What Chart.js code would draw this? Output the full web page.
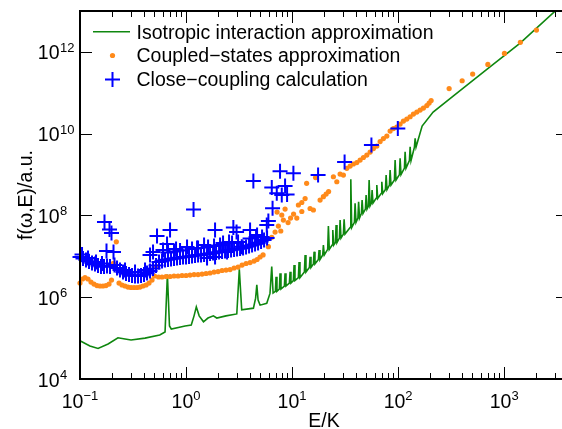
<!DOCTYPE html>
<html>
<head>
<meta charset="utf-8">
<script src="https://cdn.jsdelivr.net/npm/chart.js@4.4.1/dist/chart.umd.min.js"></script>
<style>
html, body { margin: 0; padding: 0; background: #fff; overflow: hidden; }
#wrap { width: 562px; height: 429px; overflow: hidden; }
canvas { display: block; }
</style>
</head>
<body>
<div id="wrap"><canvas id="graph" width="580" height="429"></canvas></div>
<script>
// Isotropic interaction approximation (green line)
const isoE = [0.101, 0.124, 0.148, 0.184, 0.228, 0.266, 0.303, 0.410, 0.565, 0.634, 0.667, 0.698, 0.726, 0.98, 1.12,
  1.19, 1.25, 1.33, 1.46, 1.61, 1.81, 1.95, 2.38, 3.01, 3.18, 3.35, 4.32, 4.53, 4.65, 4.78, 4.99, 5.77, 6.19, 6.43, 6.62,
  6.96, 7.06, 7.20, 7.59, 7.70, 7.86, 8.46, 8.59, 8.76, 9.43, 9.58, 9.76, 10.29, 10.44, 10.65, 11.47, 11.64, 11.87,
  13.06, 13.27, 13.52, 14.56, 14.79, 15.08, 15.89, 16.13, 16.44, 17.71, 17.97, 18.33, 19.45, 19.74, 20.13,
  21.67, 22.00, 22.44, 23.85, 24.21, 24.69, 25.62, 26.01, 26.52, 27.94, 28.37, 28.93, 30.48, 30.95, 31.56,
  35.26, 35.80, 36.50, 38.70, 39.29, 40.08, 41.77, 42.41, 43.24, 45.06, 45.75, 46.66, 49.15, 49.90, 50.89,
  52.48, 53.28, 54.33, 56.00, 56.85, 57.97, 62.02, 62.97, 64.21, 69.13, 70.19, 71.56, 75.91, 77.07, 78.59,
  82.79, 84.05, 85.70, 92.28, 93.69, 95.54, 102.9, 104.4, 106.5, 114.7, 116.4, 118.7, 127.8, 129.8, 132.3,
  142.5, 144.7, 147.6, 168.4, 213.9, 330.3, 691, 1415, 3094];
const isoF = [8.5e4, 6.4e4, 5.6e4, 7.2e4, 1.02e5, 9.5e4, 9.0e4, 1.0e5, 1.19e5, 1.41e5, 3.6e6, 1.98e5, 1.67e5, 1.98e5, 2.09e5,
  3.5e5, 5.8e5, 3.5e5, 2.5e5, 3.1e5, 3.5e5, 3.1e5, 3.5e5, 3.9e5, 4.8e6, 4.9e5, 5.4e5, 9.5e5, 2.0e6, 8.5e5, 6.4e5, 7.1e5, 1.24e6, 5.6e6, 1.27e6,
  1.39e6, 3.17e6, 1.39e6, 1.59e6, 3.84e6, 1.59e6, 1.88e6, 3.84e6, 1.88e6, 2.22e6, 4.20e6, 2.22e6, 2.55e6, 6.12e6, 2.55e6, 3.01e6, 7.26e6, 3.01e6,
  4.13e6, 1.08e7, 4.13e6, 5.35e6, 9.77e6, 5.35e6, 6.49e6, 1.30e7, 6.49e6, 8.35e6, 1.43e7, 8.35e6, 1.08e7, 1.89e7, 1.08e7,
  1.48e7, 5.51e7, 1.48e7, 1.89e7, 4.40e7, 1.89e7, 2.17e7, 5.82e7, 2.17e7, 2.80e7, 7.72e7, 2.80e7, 3.51e7, 8.03e7, 3.51e7,
  5.06e7, 7.64e8, 5.06e7, 6.78e7, 1.98e8, 6.78e7, 8.63e7, 2.16e8, 8.63e7, 1.12e8, 2.38e8, 1.12e8, 1.43e8, 3.15e8, 1.43e8,
  1.70e8, 7.34e8, 1.70e8, 2.01e8, 4.18e8, 2.01e8, 2.62e8, 5.54e8, 2.62e8, 3.43e8, 6.67e8, 3.43e8, 4.30e8, 9.72e8, 4.30e8,
  5.54e8, 1.29e9, 5.54e8, 7.34e8, 2.26e9, 7.34e8, 1.00e9, 2.49e9, 1.00e9, 1.44e9, 3.61e9, 1.44e9, 2.20e9, 4.79e9, 2.20e9,
  4.70e9, 7.67e9, 4.70e9, 1.53e10, 3.37e10, 8.30e10, 3.80e11, 1.64e12, 1.05e13];

// Coupled-states approximation (orange dots)
const csE = [0.100, 0.1056, 0.1115, 0.119, 0.127, 0.1355, 0.1446, 0.1544, 0.1648, 0.1759, 0.1878, 0.1982, 0.2061, 0.2200,
  0.2333, 0.2490, 0.2658, 0.2837, 0.3029, 0.3233, 0.3451, 0.3681, 0.3929, 0.4195, 0.4477, 0.4778, 0.5045, 0.5268,
  0.5502, 0.5937, 0.6477, 0.7066, 0.7704, 0.8404, 0.9169, 1.0, 1.091, 1.190, 1.298, 1.416, 1.544, 1.684, 1.837, 2.004,
  2.186, 2.385, 2.601, 2.837, 3.095, 3.376, 3.681, 4.017, 4.381, 4.676, 4.990, 5.326,
  5.975, 6.435, 6.913, 7.22, 7.427, 7.824, 7.994, 8.277, 8.590, 9.168, 9.679, 10.33, 11.08, 11.47, 12.35, 12.35,
  13.27, 13.71, 14.79, 15.89, 16.66, 18.37, 19.74, 20.94, 22.10, 24.53, 26.41, 28.37, 30.48, 32.81, 35.26, 37.87,
  40.77, 43.81, 47.06, 50.67, 54.43, 58.48, 62.97, 67.65, 72.66, 78.26, 84.05, 90.29, 97.21, 104.4, 112.2, 120.8,
  129.8, 139.4, 150.1, 161.3, 173.2, 186.6, 196.1, 204.8, 302.8, 401.7, 504.6, 702, 1006, 1422, 2017];
const csF = [2.22e6, 2.79e6, 3.03e6, 2.79e6, 2.35e6, 2.10e6, 1.93e6, 1.88e6, 1.88e6, 1.93e6, 2.10e6, 2.63e6, 6.75e6, 2.27e7,
  2.22e6, 1.99e6, 1.88e6, 1.77e6, 1.73e6, 1.73e6, 1.73e6, 1.77e6, 1.88e6, 1.99e6, 2.22e6, 2.63e6, 3.30e6, 5.63e6,
  3.12e6, 3.12e6, 3.21e6, 3.21e6, 3.30e6, 3.30e6, 3.40e6, 3.40e6, 3.49e6, 3.59e6, 3.59e6, 3.69e6, 3.80e6, 3.91e6, 4.13e6, 4.25e6,
  4.50e6, 4.62e6, 4.75e6, 5.18e6, 5.47e6, 6.12e6, 6.67e6, 7.05e6, 7.67e6, 8.36e6, 9.62e6, 1.08e7,
  1.72e7, 2.92e7, 3.93e7, 1.21e8, 5.51e7, 4.16e7, 1.02e8, 7.72e7, 1.43e8, 6.70e7, 8.63e7, 1.08e8, 8.63e7, 1.80e8, 1.25e8, 2.07e8,
  2.59e8, 6.10e8, 1.48e8, 1.36e8, 8.45e8, 2.38e8, 2.87e8, 3.34e8, 3.84e8, 8.83e8, 6.67e8, 1.03e9, 9.72e8, 1.42e9, 1.61e9, 1.81e9,
  1.96e9, 2.26e9, 2.61e9, 3.00e9, 3.55e9, 4.32e9, 4.98e9, 6.41e9, 7.59e9, 8.74e9, 1.16e10, 1.33e10, 1.45e10, 1.72e10, 2.03e10, 2.28e10,
  2.59e10, 3.01e10, 3.38e10, 3.78e10, 4.23e10, 4.87e10, 5.60e10, 6.44e10, 1.27e11, 1.97e11, 2.86e11, 4.94e11, 9.19e11, 1.71e12, 3.41e12];

// Close-coupling calculation (blue crosses)
const ccE = [0.100, 0.1067, 0.1139, 0.1216, 0.1298, 0.1385, 0.1478, 0.1578, 0.1684, 0.1798, 0.1919,
  0.1045, 0.119, 0.1416, 0.1612,
  0.1702, 0.1898, 0.1982, 0.1778, 0.2070, 0.2115,
  0.2234, 0.2384, 0.2545, 0.2716, 0.2900, 0.3095, 0.3303, 0.3526, 0.3763, 0.4016, 0.4286, 0.4575, 0.4884, 0.5212,
  0.2658, 0.3303, 0.4104,
  0.4575, 0.4884, 0.5325, 0.6620, 0.7066,
  0.556, 0.5937, 0.6337, 0.6763, 0.7219, 0.7704, 0.8224, 0.8778, 0.9370, 1.0, 1.067, 1.139, 1.216, 1.298, 1.385, 1.479,
  1.578, 1.684, 1.798, 1.919, 2.048, 2.186, 2.333, 2.490, 2.658, 2.837, 3.028, 3.232, 3.450, 3.681, 3.929, 4.194, 4.476,
  4.778, 5.099, 5.443, 5.810,
  0.6763, 0.7704, 0.8778, 1.139, 1.298, 1.837, 2.093, 2.716, 3.095, 4.017, 4.575,
  0.6068, 0.8049, 1.022, 1.270, 1.479, 1.613, 2.234, 2.545, 3.354, 1.578, 1.878, 2.437,
  1.177, 1.878, 2.794, 2.995, 4.017, 4.676, 5.212, 5.771, 5.975, 6.546, 6.435, 7.172, 7.994, 8.971, 8.590,
  4.314, 7.70, 10.29, 17.59, 31.28, 56.00, 99.36];
const ccF = [9.62e6, 8.83e6, 8.12e6, 7.46e6, 6.86e6, 6.49e6, 5.96e6, 5.63e6, 5.63e6, 5.79e6, 5.63e6,
  1.11e7, 9.08e6, 7.26e6, 6.67e6,
  6.90e7, 4.52e7, 3.71e7, 1.35e7, 1.27e7, 6.12e6,
  5.18e6, 4.62e6, 4.13e6, 3.80e6, 3.59e6, 3.40e6, 3.30e6, 3.30e6, 3.40e6, 3.59e6, 3.91e6, 4.37e6, 5.03e6, 5.96e6,
  4.62e6, 4.13e6, 4.62e6,
  1.08e7, 1.27e7, 3.13e7, 2.00e7, 4.40e7,
  7.26e6, 7.67e6, 8.12e6, 8.36e6, 8.59e6, 8.83e6, 9.08e6, 9.35e6, 9.62e6, 9.62e6, 9.89e6, 1.02e7, 1.05e7, 1.08e7, 1.08e7, 1.11e7,
  1.14e7, 1.17e7, 1.20e7, 1.24e7, 1.27e7, 1.31e7, 1.35e7, 1.39e7, 1.43e7, 1.47e7, 1.51e7, 1.55e7, 1.60e7, 1.69e7, 1.79e7, 1.89e7, 2.00e7,
  2.12e7, 2.30e7, 2.51e7, 2.80e7,
  1.24e7, 1.31e7, 1.39e7, 1.51e7, 1.60e7, 1.79e7, 1.89e7, 2.12e7, 2.24e7, 2.72e7, 2.96e7,
  1.43e7, 1.51e7, 1.69e7, 1.60e7, 1.89e7, 1.69e7, 2.12e7, 2.24e7, 1.72e7, 9.08e6, 9.62e6, 1.27e7,
  1.39e8, 4.40e7, 5.06e7, 3.93e7, 4.40e7, 3.32e7, 2.96e7, 5.82e7, 7.30e7, 1.49e8, 4.81e8, 3.47e8, 3.15e8, 3.24e8, 5.24e8,
  6.93e8, 1.20e9, 1.07e9, 9.72e8, 2.02e9, 5.26e9, 1.33e10];

const xTickExp = [-1, 0, 1, 2, 3];
const yTickExp = [4, 6, 8, 10, 12];
const seriesNames = ['Isotropic interaction approximation', 'Coupled\u2212states approximation', 'Close\u2212coupling calculation'];

const FONT = "'Liberation Sans', Arial, Helvetica, sans-serif";

function pts(xs, ys) {
  return xs.map((v, i) => ({ x: v, y: ys[i] }));
}

function expText(k) {
  return k < 0 ? '\u2212' + (-k) : String(k);
}

const framePlugin = {
  id: 'frame',
  afterDatasetsDraw(chart) {
    const ctx = chart.ctx;
    const a = chart.chartArea;
    const xs = chart.scales.x, ys = chart.scales.y;
    ctx.save();

    // ticks, pointing inward
    ctx.strokeStyle = '#000';
    ctx.lineWidth = 1;
    ctx.beginPath();
    for (let d = -1; d <= 3; d++) {
      for (let m = 1; m <= 9; m++) {
        const v = m * Math.pow(10, d);
        if (v >= xs.max) break;
        const px = Math.round(xs.getPixelForValue(v)) + 0.5;
        const len = m === 1 ? 12 : 6;
        ctx.moveTo(px, a.bottom); ctx.lineTo(px, a.bottom - len);
        ctx.moveTo(px, a.top); ctx.lineTo(px, a.top + len);
      }
    }
    yTickExp.forEach(k => {
      const py = Math.round(ys.getPixelForValue(Math.pow(10, k))) + 0.5;
      ctx.moveTo(a.left, py); ctx.lineTo(a.left + 12, py);
      ctx.moveTo(a.right, py); ctx.lineTo(a.right - 12, py);
    });
    ctx.stroke();

    ctx.lineWidth = 2;
    ctx.strokeRect(a.left, a.top, a.right - a.left, a.bottom - a.top);

    // tick labels
    ctx.fillStyle = '#000';
    ctx.textBaseline = 'alphabetic';
    ctx.textAlign = 'left';
    xTickExp.forEach(k => {
      const px = xs.getPixelForValue(Math.pow(10, k));
      ctx.font = '19.5px ' + FONT;
      const w10 = ctx.measureText('10').width;
      ctx.font = '13px ' + FONT;
      const we = ctx.measureText(expText(k)).width;
      const x0 = px - (w10 + we) / 2;
      ctx.font = '19.5px ' + FONT;
      ctx.fillText('10', x0, 408);
      ctx.font = '13px ' + FONT;
      ctx.fillText(expText(k), x0 + w10, 400);
    });
    yTickExp.forEach(k => {
      const py = ys.getPixelForValue(Math.pow(10, k));
      ctx.font = '19.5px ' + FONT;
      const w10 = ctx.measureText('10').width;
      ctx.fillText('10', 59.5 - w10, py + 7.5);
      ctx.font = '13px ' + FONT;
      ctx.fillText(expText(k), 60, py);
    });

    // axis titles
    ctx.font = '19.5px ' + FONT;
    ctx.textAlign = 'center';
    ctx.fillText('E/K', (a.left + a.right) / 2, 427);
    ctx.save();
    ctx.translate(31.5, (a.top + a.bottom) / 2);
    ctx.rotate(-Math.PI / 2);
    ctx.fillText('f(\u03c9,E)/a.u.', 0, 0);
    ctx.restore();

    // legend
    const ds = chart.data.datasets;
    const rows = [31.7, 55.5, 79.5];
    const iso = ds.find(d => d.label === seriesNames[0]);
    const cs = ds.find(d => d.label === seriesNames[1]);
    const cc = ds.find(d => d.label === seriesNames[2]);
    ctx.strokeStyle = iso.borderColor;
    ctx.lineWidth = iso.borderWidth;
    ctx.beginPath();
    ctx.moveTo(93, rows[0]); ctx.lineTo(130, rows[0]);
    ctx.stroke();
    ctx.fillStyle = cs.pointBackgroundColor;
    ctx.beginPath();
    ctx.arc(112.5, rows[1], cs.pointRadius, 0, Math.PI * 2);
    ctx.fill();
    ctx.strokeStyle = cc.pointBorderColor;
    ctx.lineWidth = cc.pointBorderWidth;
    ctx.beginPath();
    ctx.moveTo(112.5 - cc.pointRadius, rows[2]); ctx.lineTo(112.5 + cc.pointRadius, rows[2]);
    ctx.moveTo(112.5, rows[2] - cc.pointRadius); ctx.lineTo(112.5, rows[2] + cc.pointRadius);
    ctx.stroke();
    ctx.fillStyle = '#000';
    ctx.textAlign = 'left';
    ctx.font = '19.5px ' + FONT;
    seriesNames.forEach((s, i) => ctx.fillText(s, 136.5, rows[i] + 6.8));

    ctx.restore();
  }
};

new Chart(document.getElementById('graph'), {
  type: 'scatter',
  data: {
    datasets: [
      {
        label: seriesNames[2],
        data: pts(ccE, ccF),
        pointStyle: 'cross',
        pointRadius: 7.5,
        pointBorderColor: '#0000ff',
        pointBorderWidth: 2,
        clip: false,
        order: 0
      },
      {
        label: seriesNames[1],
        data: pts(csE, csF),
        pointStyle: 'circle',
        pointRadius: 2.6,
        pointBackgroundColor: '#ff8a1a',
        pointBorderWidth: 0,
        clip: false,
        order: 1
      },
      {
        label: seriesNames[0],
        data: pts(isoE, isoF),
        showLine: true,
        pointRadius: 0,
        borderColor: '#0f870f',
        borderWidth: 1.6,
        tension: 0,
        order: 2
      }
    ]
  },
  options: {
    responsive: false,
    animation: false,
    events: [],
    layout: { padding: { left: 80, top: 11, right: 12, bottom: 50 } },
    plugins: { legend: { display: false }, tooltip: { enabled: false } },
    scales: {
      x: { type: 'logarithmic', min: 0.1, max: 4000, display: false },
      y: { type: 'logarithmic', min: 1e4, max: 1e13, display: false }
    }
  },
  plugins: [framePlugin]
});
</script>
</body>
</html>
